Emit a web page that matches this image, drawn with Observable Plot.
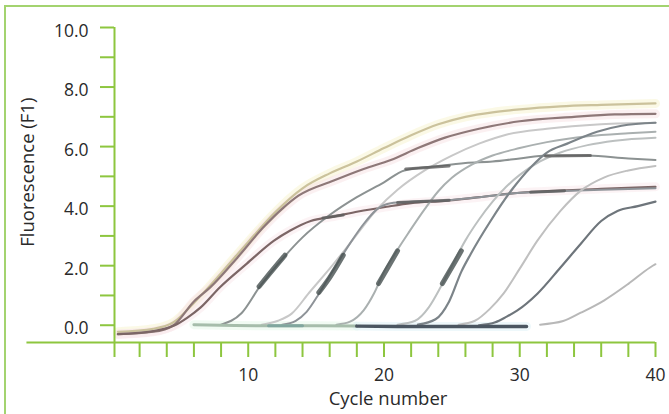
<!DOCTYPE html>
<html>
<head>
<meta charset="utf-8">
<script src="https://cdn.jsdelivr.net/npm/d3@7"></script>
<script src="https://cdn.jsdelivr.net/npm/@observablehq/plot@0.6"></script>
<style>
  html, body { margin: 0; padding: 0; background: #fff; }
  #wrap { position: relative; width: 669px; height: 414px; overflow: hidden; }
  #border { position: absolute; left: 4px; top: 5px; right: -2px; bottom: -2px;
            border-top: 2px solid #a3d36f; border-left: 2px solid #a3d36f; }
  #chart { position: absolute; left: 0; top: 0; }
</style>
</head>
<body>
<div id="wrap"><div id="border"></div><div id="chart"></div></div>
<script>
// ---- data (cycle, fluorescence) ----
const curveTop = [[0.4,-0.22],[3,-0.12],[4.5,0.1],[6,0.75],[8,1.75],[10,2.8],[12,3.8],[14,4.6],[16,5.1],[18,5.5],[20,5.95],[22,6.38],[24,6.75],[26,7.0],[28,7.15],[30,7.25],[33,7.35],[36,7.4],[40,7.45]];
const curveA = [[0.4,-0.3],[3,-0.22],[4.5,0],[6,0.8],[7.2,1.27],[9.2,2.27],[11.1,3.28],[12.6,3.95],[13.7,4.35],[16.3,4.86],[18.5,5.25],[20.5,5.55],[22.5,5.95],[24.5,6.3],[27,6.6],[30,6.85],[34,7.0],[37,7.08],[40,7.1]];
const curveB = [[0.4,-0.3],[3,-0.2],[4.5,-0.02],[5.5,0.25],[6.5,0.6],[7.9,1.27],[9.9,2.07],[11.9,2.84],[13.1,3.18],[14.6,3.5],[16.3,3.65],[18.1,3.82],[20.2,3.98],[22,4.1],[24.5,4.18],[27,4.3],[30,4.45],[33,4.52],[36,4.58],[40,4.65]];
const curveC = [[8,0.02],[9.5,0.4],[10.9,1.33],[11.6,1.73],[12.6,2.27],[14,2.95],[16,3.7],[18,4.3],[20,4.8],[21.5,5.2],[24,5.35],[26,5.45],[28,5.5],[30,5.6],[32,5.7],[35,5.7],[38,5.6],[40,5.55]];
const curveK = [[11,0.02],[12.2,0.15],[13.2,0.39],[14.5,1.1],[16,1.9],[17.5,2.75],[19.5,3.9],[21,4.55],[23,5.2],[25,5.7],[27,6.1],[29,6.4],[32,6.6],[36,6.75],[40,6.8]];
const curveD = [[12.5,0.02],[13.5,0.15],[14.3,0.45],[15.2,1.05],[15.8,1.5],[16.6,2.1],[17.5,2.75],[18.5,3.4],[19.5,3.9],[20.5,4.1],[22,4.15],[24.8,4.2],[27,4.3],[30,4.45],[33,4.5],[36,4.55],[40,4.6]];
const curveE = [[16.5,0.02],[17.5,0.12],[18.5,0.5],[19.3,1.1],[20,1.8],[20.8,2.4],[21.8,3.1],[23,3.9],[24,4.5],[25,4.95],[26.5,5.4],[28,5.7],[30,5.95],[32,6.15],[35,6.35],[38,6.45],[40,6.5]];
const curveF = [[21,0.02],[22.3,0.15],[23.3,0.6],[24.2,1.3],[25,2.0],[26,2.85],[27,3.55],[28,4.15],[29,4.65],[30,5.05],[31.5,5.5],[33,5.8],[35,6.05],[37,6.2],[40,6.3]];
const curveG = [[22.5,0.02],[23.8,0.2],[24.8,0.8],[25.7,1.8],[26.4,2.4],[27.85,3.5],[29.5,4.6],[30.8,5.3],[32,5.8],[33.5,6.1],[35.7,6.5],[37.5,6.7],[40,6.8]];
const curveH = [[25.5,0.02],[26.7,0.15],[27.8,0.55],[28.8,1.06],[30,1.9],[31.3,2.84],[33,3.84],[34.5,4.52],[36.2,4.96],[38,5.2],[40,5.35]];
const curveI = [[27,0.0],[28.2,0.1],[29,0.28],[29.8,0.49],[31.3,1.06],[33,1.94],[34.5,2.74],[36,3.5],[37.2,3.84],[38.7,4.0],[40,4.15]];
const curveJ = [[31.5,0.02],[33.2,0.14],[34.5,0.42],[36.2,0.83],[38,1.39],[39.6,1.94],[40,2.05]];
const baseGreen = [[6,0.02],[9,-0.01],[12,-0.02],[15,-0.02],[18,-0.03]];
const baseTeal = [[11.5,-0.02],[14,-0.02]];
const baseDark = [[18,-0.03],[21,-0.04],[25,-0.04],[30.5,-0.04]];
// darker overlapping stretches
const blobC = [[10.8,1.3],[11.6,1.75],[12.7,2.35]];
const blobD = [[15.2,1.1],[16,1.6],[17,2.35]];
const blobE = [[19.6,1.4],[20.3,1.95],[21,2.5]];
const blobF = [[24.3,1.4],[25,1.95],[25.7,2.5]];
const barD = [[21,4.12],[24.8,4.2]];
const barC = [[21.6,5.25],[24.8,5.35]];
const barB = [[30.8,4.47],[33.3,4.52]];
const barC2 = [[31.9,5.68],[35.2,5.7]];
const barB2 = [[15.5,3.6],[17,3.7]];

const xTicks = [0.15,2,4,6,8,10,12,14,16,18,20,22,24,26,28,30,32,34,36,38,40];
const xLabels = [10,20,30,40];
const yTicks = [0,1,2,3,4,5,6,7,8,9,10];
const yLabels = [0,2,4,6,8,10];
const xDomain = [0.15, 40];
const yDomain = [-0.58, 10];
const axisLineStart = -6.3;

const series = [
  {pts: curveTop, color: "#cbc29c", halo: "#f8f4d2", w: 2.2},
  {pts: curveA, color: "#8e7878", halo: "#f8e3e6", w: 2.2},
  {pts: curveB, color: "#7c6666", halo: "#faeaec", w: 2.2},
  {pts: curveK, color: "#c8c8c8", w: 2},
  {pts: curveC, color: "#8c9292", w: 2},
  {pts: curveD, color: "#8e9398", w: 2},
  {pts: curveE, color: "#aab0b0", w: 2},
  {pts: curveF, color: "#bcc0c0", w: 2},
  {pts: curveG, color: "#7c8489", w: 2.2},
  {pts: curveH, color: "#c0c0c0", w: 2},
  {pts: curveI, color: "#6e757b", w: 2.2},
  {pts: curveJ, color: "#b8b8b8", w: 2},
  {pts: baseGreen, color: "#a6bdab", halo: "#e6f7e9", w: 3},
  {pts: baseTeal, color: "#80a69e", w: 3},
  {pts: baseDark, color: "#4b5661", halo: "#e0f2f8", w: 3.5}
];
const overlays = [blobC, blobD, blobE, blobF];
const bars = [barD, barC, barB, barC2, barB2];

const green = "#8dc63f";
const X = d => d[0], Y = d => d[1];
const marks = [];
for (const s of series) if (s.halo) marks.push(Plot.line(s.pts, {x: X, y: Y, stroke: s.halo, strokeWidth: 9, strokeOpacity: 0.55, curve: "monotone-x"}));
for (const s of series) marks.push(Plot.line(s.pts, {x: X, y: Y, stroke: s.color, strokeWidth: s.w, curve: "monotone-x"}));
for (const o of overlays) marks.push(Plot.line(o, {x: X, y: Y, stroke: "#465050", strokeWidth: 5, strokeOpacity: 0.8, curve: "monotone-x"}));
for (const b of bars) marks.push(Plot.line(b, {x: X, y: Y, stroke: "#5c5d5d", strokeWidth: 3, strokeOpacity: 0.8}));

marks.push(
  Plot.axisY({ticks: yTicks, tickSize: 14, tickFormat: () => "", stroke: green, strokeWidth: 2, label: null}),
  Plot.axisY({ticks: yLabels, tickSize: 0, tickPadding: 26, tickFormat: d3.format(".1f"), label: null, dy: 3.5, fill: "#2a2a2a"}),
  Plot.axisX({ticks: xTicks, tickSize: 15, tickFormat: () => "", stroke: green, strokeWidth: 2, label: null}),
  Plot.axisX({ticks: xLabels, tickSize: 0, tickPadding: 26, label: null, fill: "#2a2a2a"}),
  Plot.ruleX([xDomain[0]], {y1: yDomain[0], y2: yDomain[1], stroke: green, strokeWidth: 2}),
  Plot.ruleY([yDomain[0]], {x1: axisLineStart, x2: xDomain[1], stroke: green, strokeWidth: 2}),
  Plot.text(["Cycle number"], {frameAnchor: "bottom", textAnchor: "middle", dx: 3, dy: 62, fontSize: 18.5, fill: "#2a2a2a"}),
  Plot.text(["Fluorescence (F1)"], {frameAnchor: "left", textAnchor: "middle", rotate: -90, dx: -86, dy: -12.8, fontSize: 18.5, fill: "#2a2a2a"})
);

const chart = Plot.plot({
  width: 669, height: 414,
  marginLeft: 114, marginRight: 14, marginTop: 27, marginBottom: 72,
  x: {domain: xDomain, axis: null},
  y: {domain: yDomain, axis: null},
  style: {fontFamily: "'Open Sans', sans-serif", fontSize: "17.5px", color: "#2a2a2a", background: "transparent", overflow: "visible"},
  marks
});
document.getElementById("chart").appendChild(chart);
</script>
</body>
</html>
